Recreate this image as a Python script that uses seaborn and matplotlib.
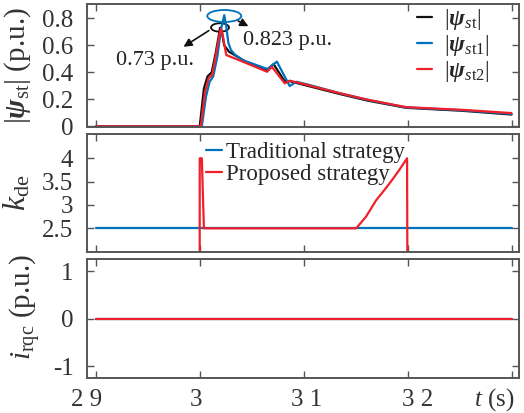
import numpy as np
import pandas as pd
import matplotlib
matplotlib.use("Agg")
import matplotlib.pyplot as plt
from matplotlib.patches import Ellipse
from matplotlib.transforms import ScaledTranslation
import seaborn as sns

# ---------------- data ----------------
psi_t = [2.9, 3.0, 3.004, 3.0075, 3.0115, 3.0155, 3.0185, 3.0195, 3.021, 3.0235, 3.026,
         3.028, 3.044, 3.0648, 3.0710, 3.0816, 3.086, 3.1037, 3.1342, 3.1617, 3.1985, 3.2525, 3.3]
psi_v = [0, 0, 0.28, 0.37, 0.40, 0.55, 0.68, 0.73, 0.71, 0.60, 0.575,
         0.553, 0.48, 0.415, 0.461, 0.335, 0.335, 0.30, 0.24, 0.19, 0.137, 0.115, 0.087]

psi1_t = [2.9, 3.002, 3.006, 3.0095, 3.013, 3.017, 3.0205, 3.0236, 3.0255, 3.0275, 3.030,
          3.034, 3.0414, 3.0650, 3.0742, 3.0866, 3.0929, 3.1037, 3.1342, 3.1617, 3.1985, 3.2525, 3.3]
psi1_v = [0, 0, 0.22, 0.33, 0.37, 0.52, 0.72, 0.823, 0.74, 0.62, 0.565,
          0.53, 0.49, 0.425, 0.479, 0.298, 0.33, 0.31, 0.246, 0.195, 0.140, 0.119, 0.092]

psi2_t = [2.9, 3.001, 3.005, 3.0085, 3.012, 3.016, 3.0195, 3.0205, 3.022, 3.0255, 3.0414,
          3.0648, 3.0694, 3.0819, 3.0866, 3.1037, 3.1342, 3.1617, 3.1985, 3.2525, 3.3]
psi2_v = [0, 0, 0.25, 0.355, 0.38, 0.55, 0.70, 0.72, 0.68, 0.528, 0.479,
          0.404, 0.44, 0.318, 0.338, 0.306, 0.246, 0.197, 0.142, 0.122, 0.098]

kde_trad_t = [2.9, 3.3]
kde_trad_v = [2.5, 2.5]
kde_prop_t = [2.9, 2.9999, 3.0, 3.002, 3.004, 3.1505, 3.160, 3.1697, 3.178, 3.1849, 3.192, 3.1995, 3.2, 3.3]
kde_prop_v = [0, 0, 4.0, 4.0, 2.5, 2.5, 2.75, 3.1, 3.33, 3.53, 3.75, 4.0, 0, 0]

irqc_t = [2.9, 3.3]
irqc_trad_v = [0, 0]
irqc_prop_v = [0, 0]

x_ticks = [2.9, 3.0, 3.1, 3.2, 3.3]
x_ticklabels = ["2 9", "3", "3 1", "3 2", ""]
x_axis_label = r"$t$ (s)"
psi_ticks = [0, 0.2, 0.4, 0.6, 0.8]
psi_ticklabels = ["0", "0.2", "0.4", "0.6", "0.8"]
kde_ticks = [2.5, 3, 3.5, 4]
kde_ticklabels = ["2.5", "3", "3.5", "4"]
irqc_ticks = [-1, 0, 1]
irqc_ticklabels = ["-1", "0", "1"]

psi_labels = [r"$|\mathbf{\psi}_{s\mathrm{t}}|$", r"$|\mathbf{\psi}_{s\mathrm{t1}}|$", r"$|\mathbf{\psi}_{s\mathrm{t2}}|$"]
kde_labels = ["Traditional strategy", "Proposed strategy"]

# ---------------- style ----------------
sns.set_theme(style="ticks")
plt.rcParams["font.family"] = ["Liberation Serif", "DejaVu Serif"]
plt.rcParams["mathtext.fontset"] = "custom"
plt.rcParams["mathtext.rm"] = "Liberation Serif"
plt.rcParams["mathtext.it"] = "Liberation Serif:italic"
plt.rcParams["mathtext.bf"] = "Liberation Serif:bold:italic"

BLACK = "#111111"
BLUE = "#0072BD"
RED = "#F0202A"
SPINE = "#555555"
TXT = "#333333"
FS_TICK = 18
FS_LEG = 17
FS_LEG2 = 16.5
FS_ANN = 16
FS_YLAB = 21

W, H = 524, 413
fig = plt.figure(figsize=(W / 100, H / 100), dpi=100)

def axes_px(left, right, top, bottom):
    return fig.add_axes([left / W, 1 - bottom / H, (right - left) / W, (bottom - top) / H])

ax1 = axes_px(87.3, 519, 4, 127.3)
ax2 = axes_px(87.3, 519, 134, 251.7)
ax3 = axes_px(87.3, 519, 259, 378.3)

lw = 1.6
sns.lineplot(x=psi_t, y=psi_v, ax=ax1, color=BLACK, lw=lw, estimator=None, sort=False, label=psi_labels[0])
sns.lineplot(x=psi1_t, y=psi1_v, ax=ax1, color=BLUE, lw=lw, estimator=None, sort=False, label=psi_labels[1])
sns.lineplot(x=psi2_t, y=psi2_v, ax=ax1, color=RED, lw=lw, estimator=None, sort=False, label=psi_labels[2])

sns.lineplot(x=kde_trad_t, y=kde_trad_v, ax=ax2, color=BLUE, lw=lw, estimator=None, sort=False, label=kde_labels[0])
sns.lineplot(x=kde_prop_t, y=kde_prop_v, ax=ax2, color=RED, lw=lw, estimator=None, sort=False, label=kde_labels[1])

sns.lineplot(x=irqc_t, y=irqc_trad_v, ax=ax3, color=BLUE, lw=lw, estimator=None, sort=False)
sns.lineplot(x=irqc_t, y=irqc_prop_v, ax=ax3, color=RED, lw=lw, estimator=None, sort=False)

xlim = (2.8918, 3.3072)
for ax in (ax1, ax2, ax3):
    ax.set_xlim(*xlim)
    ax.set_xticks(x_ticks)
    for s in ax.spines.values():
        s.set_visible(True)
        s.set_color(SPINE)
        s.set_linewidth(1.4)
    ax.tick_params(direction="in", length=5, width=1.0, color=SPINE,
                   top=True, right=True, labelsize=FS_TICK, labelcolor=TXT)
    ax.tick_params(axis="y", pad=10)
    ax.tick_params(axis="x", pad=8)
    ax.set_xlabel("")

ax1.set_ylim(-0.0074, 0.906)
ax1.set_yticks(psi_ticks)
ax1.set_yticklabels(psi_ticklabels)
ax1.set_xticklabels([])

ax2.set_ylim(2.0, 4.52)
ax2.set_yticks(kde_ticks)
ax2.set_yticklabels(kde_ticklabels)
ax2.set_xticklabels([])

ax3.set_ylim(-1.25, 1.26)
ax3.set_yticks(irqc_ticks)
ax3.set_yticklabels(irqc_ticklabels)
ax3.set_xticklabels(x_ticklabels)
# fine horizontal placement of the x tick labels (pixels)
for lab, dx in zip(ax3.get_xticklabels(), [-9, -4, 3, 10, 0]):
    lab.set_transform(lab.get_transform() + ScaledTranslation(dx / 100, 0, fig.dpi_scale_trans))
# axis unit label at the 3.3 tick position
fig.text(514 / W, 1 - 400 / H, x_axis_label, fontsize=FS_TICK, color=TXT, ha="right", va="center")

ax1.set_ylabel(r"$|\mathbf{\psi}_{\mathrm{st}}|$ (p.u.)", fontsize=FS_YLAB, color=TXT)
ax2.set_ylabel(r"$k_{\mathrm{de}}$", fontsize=FS_YLAB + 2, color=TXT)
ax3.set_ylabel(r"$i_{\mathrm{rqc}}$ (p.u.)", fontsize=FS_YLAB, color=TXT)
ax1.yaxis.set_label_coords(-0.126, 0.5)
ax2.yaxis.set_label_coords(-0.126, 0.5)
ax3.yaxis.set_label_coords(-0.103, 0.6)

# legends
ax1.legend(loc="upper left", bbox_to_anchor=(0.763, 0.975), frameon=False, fontsize=FS_LEG,
           handlelength=0.65, handletextpad=0.5, labelspacing=0.05, borderpad=0, borderaxespad=0)
ax2.legend(loc="upper left", bbox_to_anchor=(0.274, 0.93), frameon=False, fontsize=FS_LEG2,
           handlelength=0.72, handletextpad=0.15, labelspacing=0.05, borderpad=0, borderaxespad=0)

# annotations
ax1.add_patch(Ellipse((3.0195, 0.732), 0.0173, 0.063, fill=False, ec=BLACK, lw=1.3))
ax1.add_patch(Ellipse((3.0236, 0.817), 0.0327, 0.089, fill=False, ec=BLUE, lw=1.3))
ax1.annotate("", xy=(2.9821, 0.578), xytext=(3.0110, 0.72),
             arrowprops=dict(arrowstyle="-|>", color=BLACK, lw=1.2, mutation_scale=12))
ax1.annotate("", xy=(3.0492, 0.732), xytext=(3.0346, 0.79),
             arrowprops=dict(arrowstyle="-|>", color=BLACK, lw=1.2, mutation_scale=12))
ax1.text(2.9572, 0.49, "0.73 p.u.", fontsize=FS_ANN, ha="center", va="center", color="#222222")
ax1.text(3.0844, 0.639, "0.823 p.u.", fontsize=FS_ANN, ha="center", va="center", color="#222222")

fig.savefig("out.png", dpi=100)
